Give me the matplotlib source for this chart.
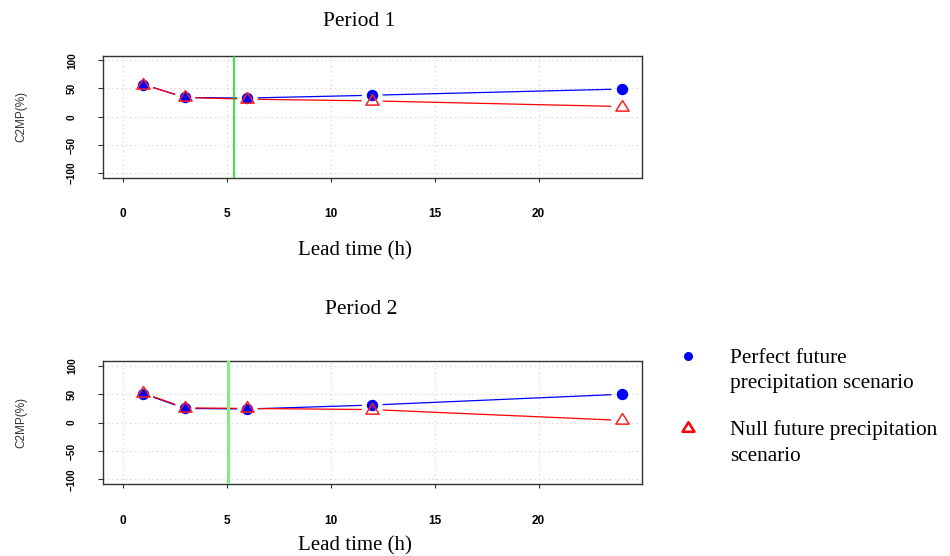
import matplotlib
matplotlib.use("Agg")
import matplotlib.pyplot as plt
import numpy as np
from matplotlib.lines import Line2D
from matplotlib.path import Path

# valores (C2MP em %)
lead_time = [1, 3, 6, 12, 24]
perfect_p1 = [57, 34, 33, 38, 49]
null_p1 = [57, 34, 31, 28, 18]
perfect_p2 = [51, 25, 24, 31, 50]
null_p2 = [52, 26, 25, 23, 4]
vline_p1 = 5.37
vline_p2 = 5.08

x_ticks = [0, 5, 10, 15, 20]
y_ticks = [-100, -50, 0, 50, 100]
titles = ["Period 1", "Period 2"]
legend_labels = ["Perfect future\nprecipitation scenario",
                 "Null future precipitation\nscenario"]

W, H = 950, 556
serif = ["Liberation Serif", "DejaVu Serif"]
sans = ["Liberation Sans", "DejaVu Sans"]
plt.rcParams['font.family'] = sans

# triângulo fechado, um pouco achatado como o pch=2 do R
tri = Path([(-1, -0.55), (1, -0.55), (0, 1.05), (-1, -0.55)], closed=True)


def gapped_line(ax, x, y, color, gap=11):
    # linhas do tipo "b" do R: segmentos interrompidos perto dos pontos
    pts = ax.transData.transform(np.column_stack([x, y]))
    inv = ax.transData.inverted()
    for p0, p1 in zip(pts[:-1], pts[1:]):
        d = p1 - p0
        L = np.hypot(*d)
        if L <= 2 * gap:
            continue
        u = d / L
        seg = inv.transform(np.array([p0 + u * gap, p1 - u * gap]))
        ax.plot(seg[:, 0], seg[:, 1], color=color, lw=0.9, zorder=2)


def painel(rect, perfect, null, vline, vcolor, vlw):
    ax = fig.add_axes(rect)
    ax.set_xlim(-0.96, 24.96)
    ax.set_ylim(-108, 108)
    for v in x_ticks:
        ax.axvline(v, color='#cfcfcf', lw=0.8, ls=(0, (1, 3)), zorder=0)
    for v in y_ticks:
        ax.axhline(v, color='#cfcfcf', lw=0.8, ls=(0, (1, 3)), zorder=0)
    gapped_line(ax, lead_time, perfect, '#0000ff')
    gapped_line(ax, lead_time, null, '#ff0000')
    ax.plot(lead_time, perfect, ls='none', marker='o', ms=7.2,
            color='#0000ff', zorder=3)
    ax.plot(lead_time, null, ls='none', marker=tri, ms=10, mfc='none',
            mec='#ff2020', mew=1.1, zorder=4)
    ax.axvline(vline, color=vcolor, lw=vlw, zorder=5)
    ax.set_xticks(x_ticks)
    ax.set_yticks(y_ticks)
    ax.tick_params(axis='x', length=3, width=0.8, pad=19, labelsize=8.5,
                   color='#333333')
    ax.tick_params(axis='y', length=3.5, width=0.8, pad=15, labelsize=7.2,
                   color='#333333')
    for lab in ax.get_xticklabels():
        lab.set_fontweight('bold')
    for lab in ax.get_yticklabels():
        lab.set_rotation(90)
        lab.set_verticalalignment('center')
        lab.set_fontweight('bold')
    for s in ax.spines.values():
        s.set_color('#333333')
        s.set_linewidth(1.0)
    ax.set_ylabel("C2MP(%)", fontsize=8.5, color='#333333')
    ax.yaxis.set_label_coords(-0.1405, 0.5)
    return ax


fig = plt.figure(figsize=(W / 100, H / 100), dpi=100)

left, width = 102.7 / W, 539 / W
painel([left, 1 - 177.7 / H, width, 122 / H], perfect_p1, null_p1,
       vline_p1, '#00e000', 1.1)
painel([left, 1 - 484 / H, width, 122.7 / H], perfect_p2, null_p2,
       vline_p2, '#80ee80', 2.2)

fig.text(359 / W, 1 - 21 / H, titles[0], family=serif, fontsize=15.5,
         ha='center', va='center')
fig.text(355 / W, 1 - 251 / H, "Lead time (h)", family=serif, fontsize=15,
         ha='center', va='center')
fig.text(361 / W, 1 - 310 / H, titles[1], family=serif, fontsize=15.5,
         ha='center', va='center')
fig.text(355 / W, 1 - 546 / H, "Lead time (h)", family=serif, fontsize=15,
         ha='center', va='center')

# legenda manual, ao lado dos painéis
fig.add_artist(Line2D([688 / W], [1 - 356 / H], transform=fig.transFigure,
                      ls='none', marker='o', ms=5.5, color='#0000ff'))
fig.add_artist(Line2D([688 / W], [1 - 428 / H], transform=fig.transFigure,
                      ls='none', marker=tri, ms=9, mfc='none',
                      mec='#ff0000', mew=1.8))
fig.text(730 / W, 1 - 371 / H, legend_labels[0], family=serif, fontsize=15.3,
         ha='left', va='center', linespacing=1.45)
fig.text(730 / W, 1 - 443 / H, legend_labels[1], family=serif, fontsize=15.3,
         ha='left', va='center', linespacing=1.45)

fig.savefig("out.png", dpi=100)
